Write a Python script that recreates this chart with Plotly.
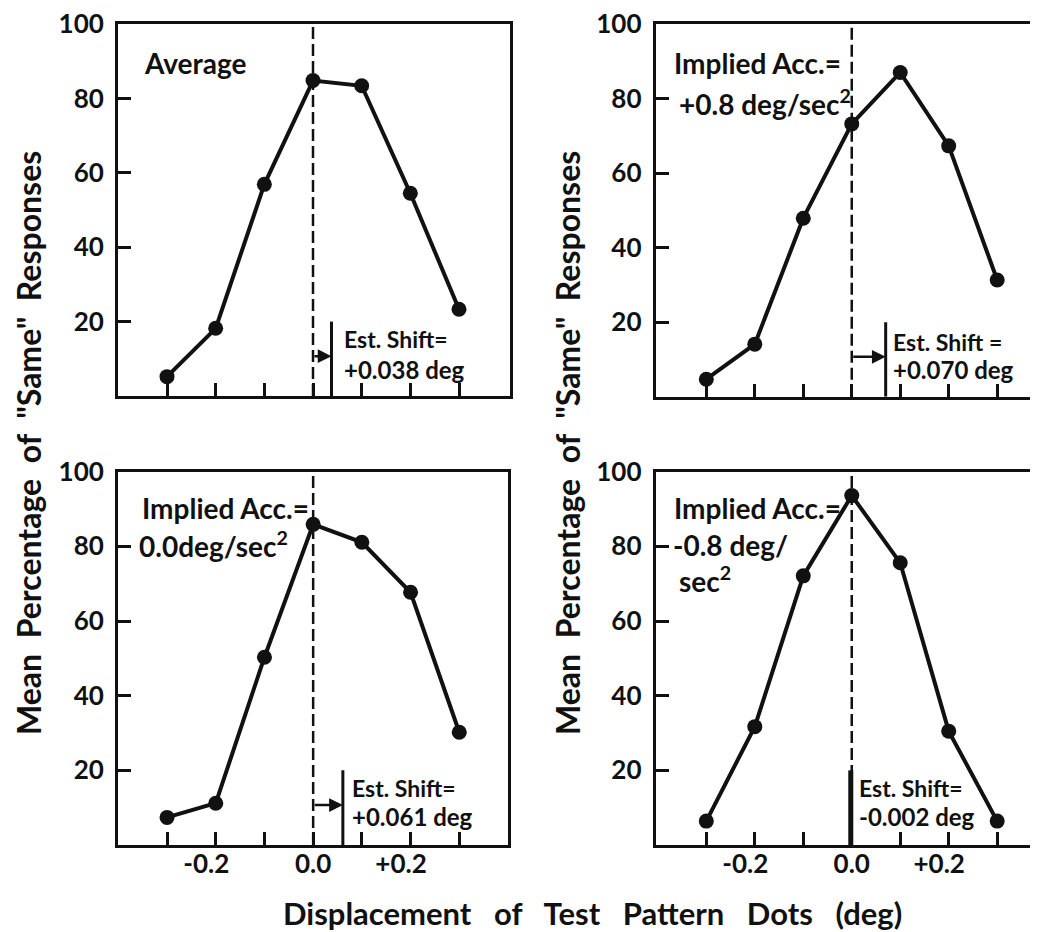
import plotly.graph_objects as go

# ---- data ----
x_disp = [-0.3, -0.2, -0.1, 0.0, 0.1, 0.2, 0.3]
avg_vals = [5.2, 18.2, 56.9, 84.8, 83.4, 54.5, 23.3]
acc_pos_vals = [4.7, 14.1, 47.9, 73.2, 87.0, 67.3, 31.3]
acc_zero_vals = [7.4, 11.2, 50.3, 85.9, 81.1, 67.7, 30.2]
acc_neg_vals = [6.4, 31.7, 72.1, 93.6, 75.6, 30.5, 6.4]
est_shift = [0.038, 0.070, 0.061, -0.002]
shift_text = ["+0.038 deg", "+0.070 deg", "+0.061 deg", "-0.002 deg"]
shift_label = ["Est. Shift=", "Est. Shift =", "Est. Shift=", "Est. Shift="]
panel_label = [
    ["Average"],
    ["Implied Acc.=", "+0.8 deg/sec<sup>2</sup>"],
    ["Implied Acc.=", "0.0deg/sec<sup>2</sup>"],
    ["Implied Acc.=", "-0.8 deg/", "sec<sup>2</sup>"],
]
x_major_ticks = [-0.2, 0.0, 0.2]
x_major_text = ["-0.2", "0.0", "+0.2"]
x_minor_ticks = [-0.3, -0.1, 0.1, 0.3]
y_tickvals = [20, 40, 60, 80, 100]
y_ticktext = ["20", "40", "60", "80", "100"]
y_words = ["Mean", "Percentage", "of", "\"Same\"", "Responses"]
x_words = ["Displacement", "of", "Test", "Pattern", "Dots", "(deg)"]

series = [avg_vals, acc_pos_vals, acc_zero_vals, acc_neg_vals]

OFF = 8                      # page body margin
W, H = 1038 - OFF, 932 - OFF
FONT = "Lato"
BLACK = "#111111"
y_title = ("\u00a0" * 2).join(y_words)
x_title = ("\u00a0" * 3).join(x_words)
# hang the sign of signed tick labels to the left of the tick
x_tick_labels = [t + ("\u00a0" * 3 if t[0] in "+-" else "") for t in x_major_text]


def px(v):
    return (v - OFF) / W


def py(v):
    return 1 - (v - OFF) / H


# panel geometry in page pixels: left, right, top, bottom, x-range
panels = [
    (118, 510, 24, 396, [-0.4007, 0.4048]),
    (655.7, 1038, 24, 396.7, [-0.4044, 0.3842]),
    (118, 508.3, 471.7, 845, [-0.4007, 0.4007]),
    (655.7, 1038, 471.7, 845, [-0.4044, 0.3842]),
]
label_pos = [
    [(-0.352, 89.4)],
    [(-0.370, 89.5), (-0.360, 79.0)],
    [(-0.355, 90.2), (-0.362, 80.6)],
    [(-0.370, 90.2), (-0.373, 80.4), (-0.360, 71.2)],
]
shift_pos = [(0.059, 15.4, 7.0), (0.0805, 14.8, 7.3), (0.076, 15.2, 7.6), (0.011, 15.2, 7.6)]
arrow_y = 10.7

fig = go.Figure()
layout = dict(
    width=W, height=H,
    margin=dict(l=0, r=0, t=0, b=0, autoexpand=False),
    paper_bgcolor="white", plot_bgcolor="white",
    showlegend=False,
    font=dict(family=FONT, color=BLACK, size=26, weight="bold"),
)
annotations = []

for i, (l, r, t, b, xr) in enumerate(panels):
    n = i + 1
    xa = "x" if n == 1 else f"x{n}"
    ya = "y" if n == 1 else f"y{n}"
    xkey = "xaxis" if n == 1 else f"xaxis{n}"
    ykey = "yaxis" if n == 1 else f"yaxis{n}"
    right_panel = i in (1, 3)
    bottom_panel = i in (2, 3)
    layout[xkey] = dict(
        domain=[px(l), min(px(r), 1.0)], range=xr, anchor=ya,
        showgrid=False, zeroline=False,
        showline=True, linewidth=3, linecolor=BLACK, mirror=True,
        ticks="inside", ticklen=13, tickwidth=3, tickcolor=BLACK,
        tickvals=x_major_ticks, ticktext=x_tick_labels,
        showticklabels=bottom_panel, ticklabelstandoff=-6,
        ticklabeloverflow="allow",
        minor=dict(tickvals=x_minor_ticks, ticks="inside", ticklen=13, tickwidth=3,
                   tickcolor=BLACK, showgrid=False),
        tickfont=dict(size=26, family=FONT, color=BLACK, weight="bold"),
    )
    layout[ykey] = dict(
        domain=[py(b), py(t)], range=[0, 100], anchor=xa,
        showgrid=False, zeroline=False,
        showline=True, linewidth=3, linecolor=BLACK,
        mirror=False if right_panel else True,
        ticks="inside", ticklen=13, tickwidth=3, tickcolor=BLACK,
        tickvals=y_tickvals, ticktext=y_ticktext,
        ticklabelstandoff=6, ticklabeloverflow="allow",
        tickfont=dict(size=26, family=FONT, color=BLACK, weight="bold"),
    )
    fig.add_trace(go.Scatter(x=[0, 0], y=[0, 100], mode="lines", xaxis=xa, yaxis=ya,
                             line=dict(color=BLACK, width=2.5, dash="12px,5px"),
                             hoverinfo="skip"))
    fig.add_trace(go.Scatter(x=[est_shift[i], est_shift[i]], y=[0, 20], mode="lines",
                             xaxis=xa, yaxis=ya,
                             line=dict(color=BLACK, width=3 if est_shift[i] > 0 else 5),
                             hoverinfo="skip"))
    fig.add_trace(go.Scatter(x=x_disp, y=series[i], mode="lines+markers",
                             xaxis=xa, yaxis=ya,
                             line=dict(color=BLACK, width=4),
                             marker=dict(color=BLACK, size=15)))
    if est_shift[i] > 0.01:
        # arrow from the zero line to the estimated shift
        annotations.append(dict(
            x=est_shift[i], y=arrow_y, ax=0, ay=arrow_y, xref=xa, yref=ya,
            axref=xa, ayref=ya, text="", showarrow=True, arrowhead=2, arrowsize=1.1,
            arrowwidth=2.5, arrowcolor=BLACK))
    sx, sy1, sy2 = shift_pos[i]
    annotations.append(dict(x=sx, y=sy1, xref=xa, yref=ya, text=shift_label[i],
                            showarrow=False, xanchor="left", yanchor="middle",
                            font=dict(size=23, family=FONT, color=BLACK, weight="bold")))
    annotations.append(dict(x=sx, y=sy2, xref=xa, yref=ya, text=shift_text[i],
                            showarrow=False, xanchor="left", yanchor="middle",
                            font=dict(size=24, family=FONT, color=BLACK, weight="bold")))
    for (lx, ly), txt in zip(label_pos[i], panel_label[i]):
        annotations.append(dict(x=lx, y=ly, xref=xa, yref=ya, text=txt,
                                showarrow=False, xanchor="left", yanchor="middle",
                                font=dict(size=28, family=FONT, color=BLACK, weight="bold")))

for xpix in (29, 568):
    annotations.append(dict(x=px(xpix), y=py(443), xref="paper", yref="paper", text=y_title,
                            textangle=-90, showarrow=False, xanchor="center", yanchor="middle",
                            borderpad=0,
                            font=dict(size=32, family=FONT, color=BLACK, weight="bold")))
annotations.append(dict(x=px(592), y=py(913), xref="paper", yref="paper", text=x_title,
                        showarrow=False, xanchor="center", yanchor="middle",
                        font=dict(size=31, family=FONT, color=BLACK, weight="bold")))

layout["annotations"] = annotations
fig.update_layout(**layout)
fig.write_html("out.html")
